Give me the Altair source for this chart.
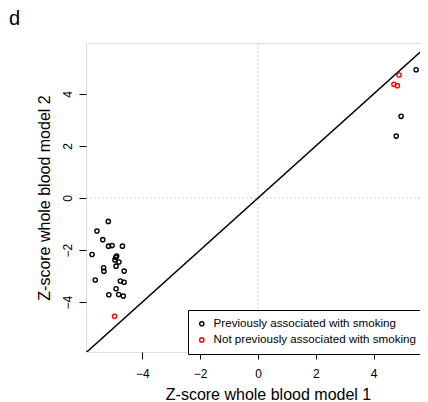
import altair as alt
import pandas as pd

# Points
prev_x = [-5.18, -5.57, -5.37, -5.17, -5.05, -4.69, -5.74, -4.89, -4.92, -4.95,
          -4.81, -4.91, -5.34, -5.33, -4.63, -5.63, -4.76, -4.63, -4.91, -5.16,
          -4.82, -4.66, 5.47, 4.95, 4.78]
prev_y = [-0.90, -1.27, -1.60, -1.85, -1.83, -1.85, -2.17, -2.23, -2.28, -2.38,
          -2.46, -2.62, -2.68, -2.82, -2.81, -3.15, -3.19, -3.24, -3.49, -3.72,
          -3.71, -3.77, 4.93, 3.14, 2.38]
new_x = [-4.96, 4.88, 4.70, 4.82]
new_y = [-4.55, 4.73, 4.37, 4.32]

groups = ["Previously associated with smoking", "Not previously associated with smoking"]
group_colors = ["#000000", "#ff0000"]
x_ticks = [-4, -2, 0, 2, 4]
y_ticks = [-4, -2, 0, 2, 4]
x_domain = [-5.95, 5.88]
y_domain = [-5.92, 5.96]
diag = [-7, 7]

FONT = "Liberation Sans"

pts = pd.DataFrame({
    "x": prev_x + new_x,
    "y": prev_y + new_y,
    "group": [groups[0]] * len(prev_x) + [groups[1]] * len(new_x),
})

W, H = 342, 309

xenc = alt.X("x:Q", scale=alt.Scale(domain=x_domain, nice=False, zero=False),
             axis=alt.Axis(values=x_ticks, title="Z-score whole blood model 1",
                           domain=False, grid=False, tickSize=7, tickColor="black",
                           labelFontSize=12, labelPadding=9, labelColor="black",
                           labelFont=FONT, titleFont=FONT, titleFontSize=16,
                           titleFontWeight="normal", titleColor="black",
                           titleX=182, titleY=47, titleAlign="center",
                           titleBaseline="alphabetic", labelFlush=False))
yenc = alt.Y("y:Q", scale=alt.Scale(domain=y_domain, nice=False, zero=False),
             axis=alt.Axis(values=y_ticks, title="Z-score whole blood model 2",
                           domain=False, grid=False, tickSize=7, tickColor="black",
                           labelFontSize=12, labelPadding=12, labelColor="black",
                           labelAngle=270, labelAlign="center", labelBaseline="middle",
                           labelFont=FONT, titleFont=FONT, titleFontSize=16,
                           titleFontWeight="normal", titleColor="black",
                           titleX=-37, titleY=H / 2, titleAngle=270,
                           titleAlign="center", titleBaseline="alphabetic",
                           labelFlush=False))

vrule = alt.Chart(pd.DataFrame({"x": [0]})).mark_rule(
    color="#cccccc", strokeDash=[2, 2], strokeWidth=1).encode(x=xenc)
hrule = alt.Chart(pd.DataFrame({"y": [0]})).mark_rule(
    color="#cccccc", strokeDash=[2, 2], strokeWidth=1).encode(y=yenc)

line = alt.Chart(pd.DataFrame({"x": diag, "y": diag})).mark_line(
    color="black", strokeWidth=1.4, clip=True).encode(x=xenc, y=yenc)

points = alt.Chart(pts).mark_point(shape="circle", filled=False, size=18,
                                   strokeWidth=1.4, opacity=1).encode(
    x=xenc, y=yenc,
    color=alt.Color("group:N",
                    scale=alt.Scale(domain=groups, range=group_colors),
                    sort=groups,
                    legend=alt.Legend(orient="none", legendX=102, legendY=267,
                                      title=None, strokeColor="black",
                                      fillColor="white", padding=8,
                                      labelFontSize=11.6, labelFont=FONT,
                                      labelColor="black", labelLimit=400,
                                      symbolType="circle", symbolSize=18,
                                      symbolStrokeWidth=1.4, rowPadding=3.1,
                                      labelOffset=6)),
)

label = alt.Chart(pd.DataFrame({"t": ["d"]})).mark_text(
    align="left", baseline="alphabetic", fontSize=20, font=FONT, color="black"
).encode(text="t:N", x=alt.value(-77), y=alt.value(-18))

chart = alt.layer(vrule, hrule, line, points, label).properties(
    width=W, height=H,
    autosize=alt.AutoSizeParams(type="none"),
    padding={"left": 78, "top": 35, "right": -8, "bottom": 50},
).configure_view(stroke="black", strokeWidth=1.3).configure(background="white")

chart.save("out.html", embed_options={"renderer": "svg", "actions": False})
